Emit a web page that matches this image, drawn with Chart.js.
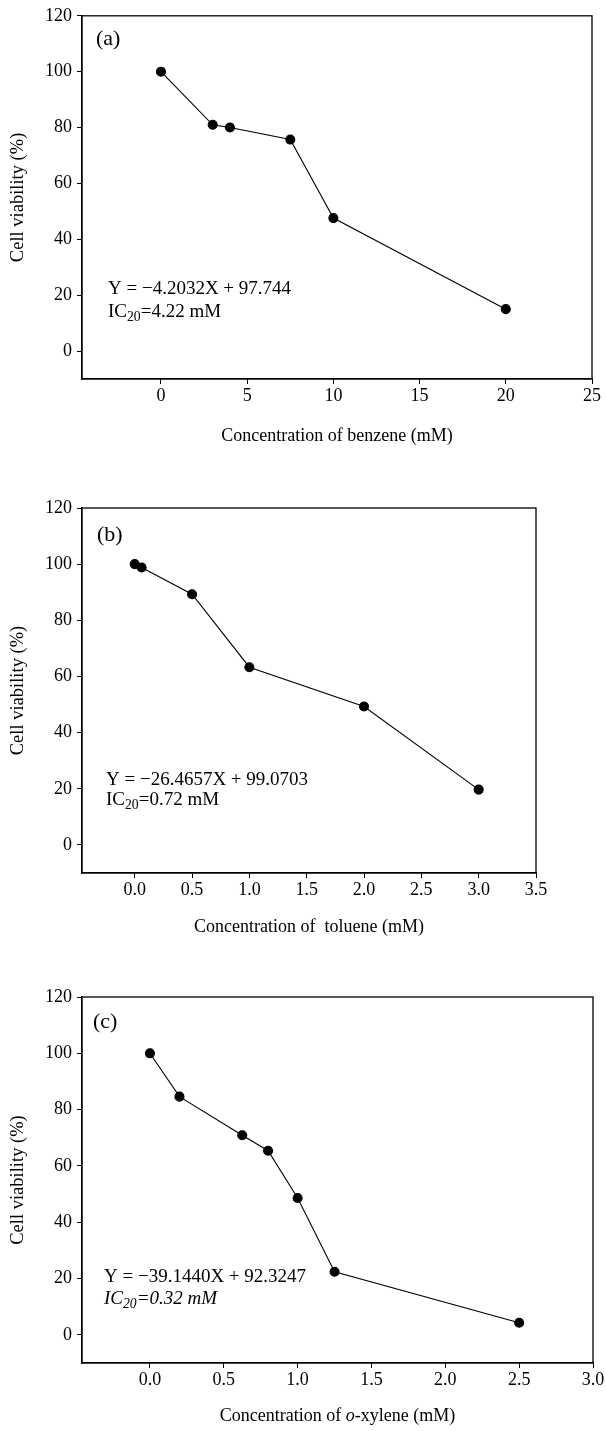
<!DOCTYPE html>
<html>
<head>
<meta charset="utf-8">
<script src="https://cdn.jsdelivr.net/npm/chart.js@4.4.1/dist/chart.umd.min.js"></script>
<style>
  html, body { margin: 0; padding: 0; background: #fff; }
  body { width: 606px; height: 1431px; position: relative; overflow: hidden; }
  canvas { position: absolute; left: 0; }
</style>
</head>
<body>
<canvas id="ca" width="606" height="460" style="top:0px"></canvas>
<canvas id="cb" width="606" height="480" style="top:470px"></canvas>
<canvas id="cc" width="606" height="471" style="top:960px"></canvas>
<script>
// ---------- DATA ----------
const benzeneConc = [0, 3, 4, 7.5, 10, 20];
const benzeneViability = [100, 81, 80, 75.7, 47.6, 15];

const tolueneConc = [0, 0.06, 0.5, 1, 2, 3];
const tolueneViability = [100, 98.8, 89.3, 63.3, 49.3, 19.7];

const xyleneConc = [0, 0.2, 0.625, 0.8, 1, 1.25, 2.5];
const xyleneViability = [100, 84.6, 70.9, 65.4, 48.6, 22.4, 4.3];

const yTicks = [0, 20, 40, 60, 80, 100, 120];
const xTicksA = [0, 5, 10, 15, 20, 25];
const xTicksB = [0, 0.5, 1, 1.5, 2, 2.5, 3, 3.5];
const xTicksC = [0, 0.5, 1, 1.5, 2, 2.5, 3];

const yTitle = "Cell viability (%)";
const xTitleA = [{t: "Concentration of benzene (mM)"}];
const xTitleB = [{t: "Concentration of  toluene (mM)"}];
const xTitleC = [{t: "Concentration of "}, {t: "o", it: true}, {t: "-xylene (mM)"}];

const eqA = [{t: "Y = \u22124.2032X + 97.744"}];
const icA = [{t: "IC"}, {t: "20", sub: true}, {t: "=4.22 mM"}];
const eqB = [{t: "Y = \u221226.4657X + 99.0703"}];
const icB = [{t: "IC"}, {t: "20", sub: true}, {t: "=0.72 mM"}];
const eqC = [{t: "Y = \u221239.1440X + 92.3247"}];
const icC = [{t: "IC", it: true}, {t: "20", sub: true, it: true}, {t: "=0.32 mM", it: true}];

// ---------- DRAWING HELPERS ----------
const FONT = "'Liberation Serif', 'DejaVu Serif', serif";

function richWidth(ctx, segs, size) {
  let w = 0;
  for (const s of segs) {
    const fs = s.sub ? size * 0.72 : size;
    ctx.font = (s.it ? 'italic ' : '') + fs + 'px ' + FONT;
    w += ctx.measureText(s.t).width;
  }
  return w;
}
function drawRich(ctx, segs, x, y, size, align) {
  let cx = x;
  if (align === 'center') cx = x - richWidth(ctx, segs, size) / 2;
  ctx.textBaseline = 'middle';
  ctx.textAlign = 'left';
  for (const s of segs) {
    const fs = s.sub ? size * 0.72 : size;
    ctx.font = (s.it ? 'italic ' : '') + fs + 'px ' + FONT;
    ctx.fillText(s.t, cx, s.sub ? y + size * 0.3 : y);
    cx += ctx.measureText(s.t).width;
  }
}

const panelPlugin = {
  id: 'panelDecor',
  afterDraw(chart, args, o) {
    const ctx = chart.ctx;
    const a = chart.chartArea;
    ctx.save();
    ctx.strokeStyle = '#000';
    ctx.lineWidth = 1.3;
    ctx.strokeRect(a.left, a.top, a.right - a.left, a.bottom - a.top);
    ctx.fillStyle = '#000';
    // panel label
    drawRich(ctx, [{t: o.label}], a.left + o.labelDx, a.top + o.labelDy, 22, 'left');
    // equation + IC
    drawRich(ctx, o.eq, a.left + o.eqDx, a.top + o.eqDy1, 19, 'left');
    drawRich(ctx, o.ic, a.left + o.eqDx, a.top + o.eqDy2, 19, 'left');
    // x title
    drawRich(ctx, o.xTitle, (a.left + a.right) / 2, a.bottom + o.xTitleDy, 18, 'center');
    // y title
    ctx.translate(18, (a.top + a.bottom) / 2);
    ctx.rotate(-Math.PI / 2);
    drawRich(ctx, [{t: yTitle}], 0, 0, 18.5, 'center');
    ctx.restore();
  }
};

function makeChart(id, xs, ys, cfg) {
  const data = xs.map((x, i) => ({x: x, y: ys[i]}));
  return new Chart(document.getElementById(id), {
    type: 'scatter',
    data: {
      datasets: [{
        data: data,
        showLine: true,
        borderColor: '#000',
        borderWidth: 1.1,
        backgroundColor: '#000',
        pointBackgroundColor: '#000',
        pointBorderColor: '#000',
        pointRadius: 4.5,
        pointHoverRadius: 4.5,
        tension: 0,
        clip: false
      }]
    },
    options: {
      responsive: false,
      animation: false,
      devicePixelRatio: 1,
      layout: { padding: { top: cfg.padTop, right: cfg.padRight, left: 0, bottom: 0 } },
      plugins: {
        legend: { display: false },
        tooltip: { enabled: false },
        panelDecor: cfg.decor
      },
      events: [],
      scales: {
        x: {
          type: 'linear',
          min: cfg.xMin,
          max: cfg.xMax,
          afterBuildTicks: (s) => { s.ticks = cfg.xTicks.map(v => ({value: v})); },
          afterFit: (s) => { s.height = cfg.xAxisH; },
          ticks: {
            color: '#000',
            font: { family: FONT, size: 18 },
            padding: 1,
            maxRotation: 0,
            autoSkip: false,
            callback: (v) => cfg.xFmt(v)
          },
          grid: { display: true, drawOnChartArea: false, drawTicks: true, tickLength: 5, color: '#000', lineWidth: 1 },
          border: { display: true, color: '#000', width: 1.3 }
        },
        y: {
          type: 'linear',
          min: -10,
          max: 120,
          afterBuildTicks: (s) => { s.ticks = yTicks.map(v => ({value: v})); },
          afterFit: (s) => { s.width = 82; },
          ticks: {
            color: '#000',
            font: { family: FONT, size: 18 },
            padding: 5,
            autoSkip: false,
            callback: (v) => String(v)
          },
          grid: { display: true, drawOnChartArea: false, drawTicks: true, tickLength: 5, color: '#000', lineWidth: 1 },
          border: { display: true, color: '#000', width: 1.3 }
        }
      }
    },
    plugins: [panelPlugin]
  });
}

makeChart('ca', benzeneConc, benzeneViability, {
  padTop: 15, padRight: 14, xAxisH: 81, xMin: -4.58, xMax: 25, xTicks: xTicksA,
  xFmt: (v) => String(v),
  decor: { label: '(a)', labelDx: 14, labelDy: 23, eq: eqA, ic: icA, eqDx: 26, eqDy1: 273, eqDy2: 296, xTitle: xTitleA, xTitleDy: 57 }
});
makeChart('cb', tolueneConc, tolueneViability, {
  padTop: 38, padRight: 70, xAxisH: 77, xMin: -0.46, xMax: 3.5, xTicks: xTicksB,
  xFmt: (v) => v.toFixed(1),
  decor: { label: '(b)', labelDx: 15, labelDy: 27, eq: eqB, ic: icB, eqDx: 24, eqDy1: 272, eqDy2: 292, xTitle: xTitleB, xTitleDy: 54 }
});
makeChart('cc', xyleneConc, xyleneViability, {
  padTop: 37, padRight: 13, xAxisH: 68, xMin: -0.46, xMax: 3.0, xTicks: xTicksC,
  xFmt: (v) => v.toFixed(1),
  decor: { label: '(c)', labelDx: 11, labelDy: 25, eq: eqC, ic: icC, eqDx: 22, eqDy1: 280, eqDy2: 302, xTitle: xTitleC, xTitleDy: 53 }
});
</script>
</body>
</html>
